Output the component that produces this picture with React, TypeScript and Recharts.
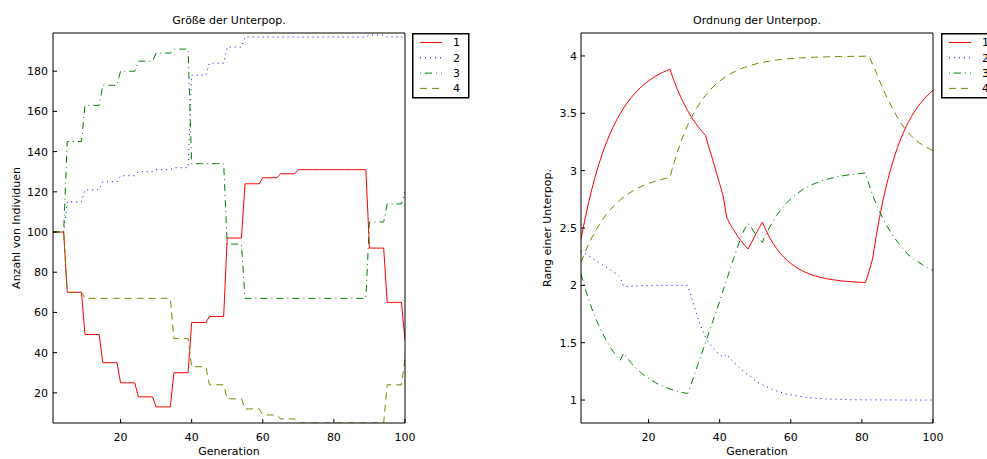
import React from 'react';
import { LineChart, Line, XAxis, YAxis, Legend } from 'recharts';

// ---------- data ----------
const generations: number[] = Array.from({ length: 100 }, (_, i) => i + 1);
const genTicks = [20, 40, 60, 80, 100];
const sizeTicks = [20, 40, 60, 80, 100, 120, 140, 160, 180];
const rankTicks = [1, 1.5, 2, 2.5, 3, 3.5, 4];
const seriesNames = ['1', '2', '3', '4'];

const sizeRed = [
  100, 100, 100, 100, 70, 70, 70, 70, 70, 49,
  49, 49, 49, 49, 35, 35, 35, 35, 35, 25,
  25, 25, 25, 25, 18, 18, 18, 18, 18, 13,
  13, 13, 13, 13, 30, 30, 30, 30, 30, 55,
  55, 55, 55, 55, 58, 58, 58, 58, 58, 97,
  97, 97, 97, 97, 124, 124, 124, 124, 124, 127,
  127, 127, 127, 127, 129, 129, 129, 129, 129, 131,
  131, 131, 131, 131, 131, 131, 131, 131, 131, 131,
  131, 131, 131, 131, 131, 131, 131, 131, 131, 92,
  92, 92, 92, 92, 65, 65, 65, 65, 65, 46,
];
const sizeBlue = [
  100, 100, 100, 100, 115, 115, 115, 115, 115, 121,
  121, 121, 121, 121, 125, 125, 125, 125, 125, 128,
  128, 128, 128, 128, 130, 130, 130, 130, 130, 131,
  131, 131, 131, 131, 132, 132, 132, 132, 132, 178,
  178, 178, 178, 178, 184, 184, 184, 184, 184, 192,
  192, 192, 192, 192, 197, 197, 197, 197, 197, 197,
  197, 197, 197, 197, 197, 197, 197, 197, 197, 197,
  197, 197, 197, 197, 197, 197, 197, 197, 197, 197,
  197, 197, 197, 197, 197, 197, 197, 197, 197, 198,
  198, 198, 198, 198, 197, 197, 197, 197, 197, 197,
];
const sizeGreen = [
  100, 100, 100, 100, 145, 145, 145, 145, 145, 163,
  163, 163, 163, 163, 173, 173, 173, 173, 173, 180,
  180, 180, 180, 180, 185, 185, 185, 185, 185, 189,
  189, 189, 189, 189, 191, 191, 191, 191, 191, 134,
  134, 134, 134, 134, 134, 134, 134, 134, 134, 94,
  94, 94, 94, 94, 67, 67, 67, 67, 67, 67,
  67, 67, 67, 67, 67, 67, 67, 67, 67, 67,
  67, 67, 67, 67, 67, 67, 67, 67, 67, 67,
  67, 67, 67, 67, 67, 67, 67, 67, 67, 105,
  105, 105, 105, 105, 114, 114, 114, 114, 114, 120,
];
const sizeOlive = [
  100, 100, 100, 100, 70, 70, 70, 70, 70, 67,
  67, 67, 67, 67, 67, 67, 67, 67, 67, 67,
  67, 67, 67, 67, 67, 67, 67, 67, 67, 67,
  67, 67, 67, 67, 47, 47, 47, 47, 47, 33,
  33, 33, 33, 33, 24, 24, 24, 24, 24, 17,
  17, 17, 17, 17, 12, 12, 12, 12, 12, 9,
  9, 9, 9, 9, 7, 7, 7, 7, 7, 5,
  5, 5, 5, 5, 5, 5, 5, 5, 5, 5,
  5, 5, 5, 5, 5, 5, 5, 5, 5, 5,
  5, 5, 5, 5, 24, 24, 24, 24, 24, 37,
];

const rankRed = [
  2.4, 2.56, 2.703, 2.832, 2.949, 3.053, 3.148, 3.233, 3.309, 3.378,
  3.44, 3.496, 3.546, 3.591, 3.632, 3.669, 3.702, 3.732, 3.758, 3.782,
  3.804, 3.824, 3.841, 3.857, 3.871, 3.884, 3.796, 3.716, 3.644, 3.58,
  3.522, 3.47, 3.423, 3.381, 3.343, 3.308, 3.2, 3.1, 2.99, 2.886,
  2.775, 2.59, 2.53, 2.48, 2.43, 2.39, 2.35, 2.317, 2.377, 2.436,
  2.496, 2.55, 2.481, 2.42, 2.367, 2.322, 2.282, 2.247, 2.217, 2.191,
  2.168, 2.148, 2.131, 2.116, 2.103, 2.091, 2.081, 2.073, 2.065, 2.059,
  2.053, 2.048, 2.044, 2.04, 2.037, 2.034, 2.032, 2.029, 2.028, 2.026,
  2.024, 2.12, 2.23, 2.425, 2.598, 2.75, 2.885, 3.004, 3.108, 3.201,
  3.283, 3.355, 3.419, 3.475, 3.525, 3.569, 3.607, 3.642, 3.672, 3.699,
];
const rankBlue = [
  2.3, 2.28, 2.26, 2.24, 2.22, 2.2, 2.18, 2.16, 2.14, 2.12,
  2.1, 2.07, 1.99, 1.99, 1.993, 1.995, 1.996, 1.997, 1.998, 1.998,
  2, 2, 2, 2, 2, 2, 2, 2, 2, 2,
  2, 1.9, 1.8, 1.7, 1.62, 1.55, 1.5, 1.46, 1.42, 1.4,
  1.375, 1.4, 1.36, 1.33, 1.3, 1.27, 1.24, 1.22, 1.2, 1.17,
  1.15, 1.135, 1.12, 1.105, 1.09, 1.08, 1.07, 1.06, 1.05, 1.045,
  1.04, 1.035, 1.03, 1.025, 1.022, 1.019, 1.016, 1.014, 1.012, 1.01,
  1.009, 1.008, 1.007, 1.006, 1.005, 1.004, 1.003, 1.003, 1.003, 1.002,
  1.002, 1.002, 1.002, 1.001, 1.001, 1.001, 1.001, 1.001, 1.001, 1.001,
  1, 1, 1, 1, 1, 1, 1, 1, 1, 1,
];
const rankGreen = [
  2.1, 1.99, 1.891, 1.802, 1.722, 1.65, 1.585, 1.526, 1.473, 1.426,
  1.383, 1.345, 1.41, 1.367, 1.328, 1.294, 1.263, 1.235, 1.211, 1.189,
  1.169, 1.151, 1.135, 1.121, 1.108, 1.097, 1.087, 1.078, 1.07, 1.062,
  1.058, 1.14, 1.23, 1.32, 1.41, 1.5, 1.59, 1.68, 1.77, 1.86,
  1.96, 2.05, 2.15, 2.24, 2.33, 2.42, 2.49, 2.54, 2.5, 2.45,
  2.41, 2.375, 2.444, 2.505, 2.559, 2.608, 2.651, 2.689, 2.724, 2.754,
  2.781, 2.805, 2.827, 2.846, 2.863, 2.878, 2.891, 2.903, 2.914, 2.923,
  2.932, 2.939, 2.946, 2.952, 2.957, 2.962, 2.966, 2.97, 2.973, 2.976,
  2.979, 2.88, 2.79, 2.71, 2.64, 2.58, 2.52, 2.47, 2.42, 2.38,
  2.34, 2.3, 2.27, 2.24, 2.22, 2.2, 2.18, 2.16, 2.145, 2.13,
];
const rankOlive = [
  2.2, 2.279, 2.35, 2.414, 2.471, 2.523, 2.57, 2.613, 2.651, 2.685,
  2.716, 2.744, 2.769, 2.792, 2.812, 2.831, 2.848, 2.863, 2.876, 2.888,
  2.899, 2.909, 2.918, 2.926, 2.933, 2.94, 3.053, 3.154, 3.244, 3.324,
  3.396, 3.461, 3.518, 3.569, 3.615, 3.656, 3.693, 3.726, 3.755, 3.781,
  3.804, 3.825, 3.844, 3.86, 3.875, 3.889, 3.9, 3.911, 3.92, 3.929,
  3.937, 3.943, 3.949, 3.955, 3.96, 3.964, 3.968, 3.971, 3.974, 3.977,
  3.979, 3.982, 3.984, 3.985, 3.987, 3.988, 3.989, 3.99, 3.991, 3.992,
  3.993, 3.994, 3.994, 3.995, 3.995, 3.996, 3.996, 3.997, 3.997, 3.997,
  3.998, 3.998, 3.93, 3.86, 3.78, 3.71, 3.64, 3.58, 3.52, 3.465,
  3.415, 3.37, 3.33, 3.3, 3.27, 3.245, 3.225, 3.205, 3.19, 3.175,
];

const sizeData = generations.map((g, i) => ({
  g, s1: sizeRed[i], s2: sizeBlue[i], s3: sizeGreen[i], s4: sizeOlive[i],
}));
const rankData = generations.map((g, i) => ({
  g, s1: rankRed[i], s2: rankBlue[i], s3: rankGreen[i], s4: rankOlive[i],
}));

// ---------- styles ----------
const FONT = '"DejaVu Sans", Arial, sans-serif';
const FS = 11;
const styles = [
  { key: 's1', color: '#ff0000', dash: undefined as string | undefined, legendOffset: 0 },
  { key: 's2', color: '#0000ff', dash: '1 4', legendOffset: 0 },
  { key: 's3', color: '#008000', dash: '7 4 1 4', legendOffset: 11 },
  { key: 's4', color: '#808000', dash: '7 5', legendOffset: 0 },
];
const tickStyle = { fill: '#000', fontSize: FS, fontFamily: FONT };
const lineStyle = { stroke: '#000', strokeWidth: 1 };

function LegendBox() {
  return (
    <svg width={58} height={66} style={{ display: 'block', overflow: 'visible' }}>
      <rect x={0.75} y={0.75} width={56} height={64} fill="#fff" stroke="#000" strokeWidth={1.5} />
      {styles.map((s, i) => {
        const cy = 9.5 + i * 15.3;
        return (
          <g key={s.key}>
            <line x1={8} x2={30} y1={cy} y2={cy} stroke={s.color} strokeWidth={1}
              strokeDasharray={s.dash} strokeDashoffset={s.legendOffset} />
            <text x={41} y={cy} dy="0.36em" fontFamily={FONT} fontSize={FS} fill="#000">
              {seriesNames[i]}
            </text>
          </g>
        );
      })}
    </svg>
  );
}

const titleLabel = (text: string) => (props: any) => {
  const vb = props.viewBox || { x: 0, width: 0 };
  return (
    <text x={vb.x + vb.width / 2} y={24} textAnchor="middle" fontFamily={FONT} fontSize={FS} fill="#000">
      {text}
    </text>
  );
};
const bottomLabel = (text: string) => (props: any) => {
  const vb = props.viewBox || { x: 0, width: 0 };
  return (
    <text x={vb.x + vb.width / 2} y={455} textAnchor="middle" fontFamily={FONT} fontSize={FS} fill="#000">
      {text}
    </text>
  );
};
const sideLabel = (text: string, x: number) => (props: any) => {
  const vb = props.viewBox || { y: 0, height: 0 };
  const cy = vb.y + vb.height / 2;
  return (
    <text x={x} y={cy} transform={`rotate(-90 ${x} ${cy})`} textAnchor="middle"
      dominantBaseline="central" fontFamily={FONT} fontSize={FS} fill="#000">
      {text}
    </text>
  );
};

function Panel(props: {
  data: any[]; width: number; marginRight: number; leftWidth: number;
  domain: [number, number]; yTicks: number[]; title: string; yLabel: string;
  yLabelX: number; tickMargin: number; legendLeft: number;
}) {
  const { data, width, marginRight, leftWidth, domain, yTicks, title, yLabel, yLabelX, tickMargin, legendLeft } = props;
  return (
    <LineChart width={width} height={459} data={data}
      margin={{ top: 32, right: marginRight, bottom: 0, left: 0 }}>
      <XAxis dataKey="g" type="number" domain={[1, 100]} allowDataOverflow ticks={genTicks} interval={0}
        height={36} tickSize={-4} tickMargin={14} tick={tickStyle} axisLine={lineStyle} tickLine={lineStyle}
        label={bottomLabel('Generation')} />
      <XAxis xAxisId="top" orientation="top" dataKey="g" type="number" domain={[1, 100]} allowDataOverflow
        ticks={genTicks} interval={0} height={1} tickSize={-4} tick={false} axisLine={lineStyle} tickLine={lineStyle}
        label={titleLabel(title)} />
      <YAxis type="number" domain={domain} allowDataOverflow ticks={yTicks} interval={0} width={leftWidth}
        tickSize={-4} tickMargin={tickMargin} tick={tickStyle} axisLine={lineStyle} tickLine={lineStyle}
        label={sideLabel(yLabel, yLabelX)} />
      <YAxis yAxisId="r" orientation="right" type="number" domain={domain} allowDataOverflow ticks={yTicks}
        interval={0} width={1} tickSize={-4} tick={false} axisLine={lineStyle} tickLine={lineStyle} />
      {styles.map((s, i) => (
        <Line key={s.key} dataKey={s.key} name={seriesNames[i]} type="linear" stroke={s.color} strokeWidth={1}
          strokeDasharray={s.dash} dot={false} activeDot={false} isAnimationActive={false} />
      ))}
      <Legend layout="vertical" align="center" verticalAlign="middle" content={() => <LegendBox />}
        wrapperStyle={{ left: legendLeft, top: 33, width: 58, height: 66 }} />
    </LineChart>
  );
}

export default function App() {
  return (
    <div style={{ position: 'absolute', left: 0, top: 0, width: 987, height: 459, overflow: 'hidden', background: '#fff' }}>
      <div style={{ position: 'absolute', left: 0, top: 0 }}>
        <Panel data={sizeData} width={480} marginRight={74} leftWidth={53} domain={[5, 199]} yTicks={sizeTicks}
          title="Größe der Unterpop." yLabel="Anzahl von Individuen" yLabelX={16.5} tickMargin={9} legendLeft={412} />
      </div>
      <div style={{ position: 'absolute', left: 500, top: 0 }}>
        <Panel data={rankData} width={487} marginRight={53} leftWidth={81} domain={[0.8, 4.2]} yTicks={rankTicks}
          title="Ordnung der Unterpop." yLabel="Rang einer Unterpop." yLabelX={47.5} tickMargin={8} legendLeft={441} />
      </div>
    </div>
  );
}
